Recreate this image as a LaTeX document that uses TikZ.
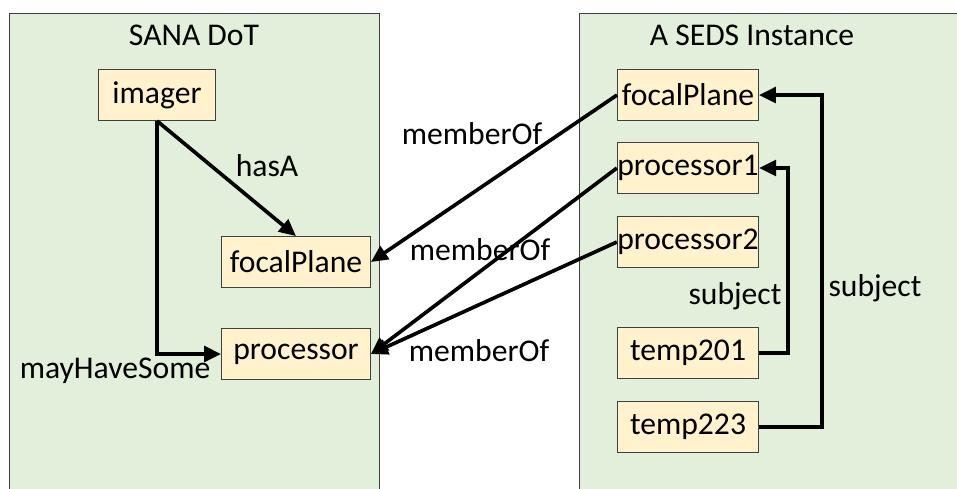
\documentclass[tikz,border=0pt]{standalone}
\usepackage{fontspec}
\setmainfont{Carlito}
\usetikzlibrary{arrows.meta}

\definecolor{panelgreen}{HTML}{E2EFDA}
\definecolor{termyellow}{HTML}{FFF2CC}
\definecolor{edgegray}{HTML}{3F3F3F}

\tikzset{
    panel/.style={draw=edgegray, fill=panelgreen, line width=0.6pt},
    term/.style={draw=edgegray, fill=termyellow, line width=0.6pt,
        minimum height=1.275cm, inner sep=0pt},
    lterm/.style={term, minimum width=3.725cm},
    rterm/.style={term, minimum width=3.525cm},
    rel/.style={line width=2.6pt, -{Triangle[length=12pt,width=11pt]}},
    lbl/.style={inner sep=0pt}
}

\begin{document}
\begin{tikzpicture}[x=0.025cm, y=-0.025cm, font=\fontsize{22.5}{26}\selectfont]
    \clip (0,0) rectangle (957,488);
    \fill[white] (0,0) rectangle (957,488);
    %% the two groups
    \draw[panel] (9,13) rectangle (379,520);
    \draw[panel] (579,13) rectangle (990,520);
    \node[lbl] (dottitle) at (194,35) {SANA DoT};
    \node[lbl] (sedstitle) at (752,35) {A SEDS Instance};

    %% SANA DoT terms
    \node[term, minimum width=2.925cm] (imager) at (157,95) {imager};
    \node[lterm] (focalL) at (296,262) {focalPlane};
    \node[lterm] (procL) at (296,354) {processor};

    %% instance terms
    \node[rterm] (focalR) at (688,95) {focalPlane};
    \node[rterm] (proc1) at (688,168) {processor1};
    \node[rterm] (proc2) at (688,242) {processor2};
    \node[rterm] (temp201) at (688,353) {temp201};
    \node[rterm] (temp223) at (688,427) {temp223};

    %% relations inside the DoT
    \draw[rel] (imager.south) -- (focalL.north);
    \draw[rel] (imager.south) |- (procL.west);
    \node[lbl] (hasA) at (267,166) {hasA};
    \node[lbl] (mayhave) at (115,371) {mayHaveSome};

    %% memberOf links
    \draw[rel] (focalR.west) -- (focalL.east);
    \draw[rel] (proc1.west) -- (procL.east);
    \draw[rel] (proc2.west) -- (procL.east);
    \node[lbl] (mem1) at (472,134) {memberOf};
    \node[lbl] (mem2) at (480,250) {memberOf};
    \node[lbl] (mem3) at (479,351) {memberOf};

    %% subject links
    \draw[rel] (temp201.east) -- (788,353) |- (proc1.east);
    \draw[rel] (temp223.east) -- (822,427) |- (focalR.east);
    \node[lbl] (subj1) at (735,296) {subject};
    \node[lbl] (subj2) at (875,288) {subject};
\end{tikzpicture}
\end{document}
